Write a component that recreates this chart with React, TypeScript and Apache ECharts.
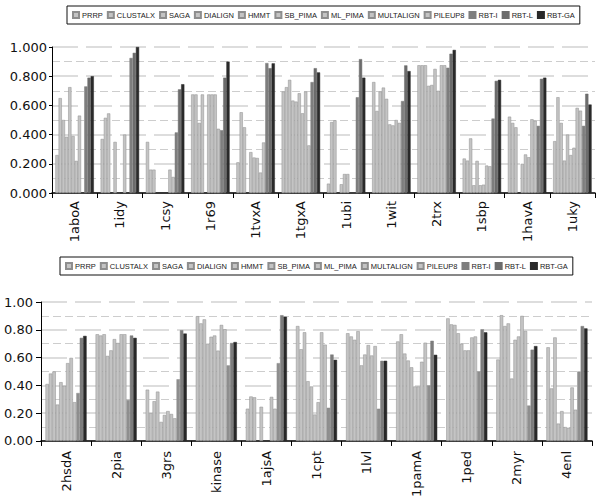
import React, { useEffect, useRef } from "react";
import * as echarts from "echarts";

const SERIES_NAMES = ["PRRP", "CLUSTALX", "SAGA", "DIALIGN", "HMMT", "SB_PIMA", "ML_PIMA", "MULTALIGN", "PILEUP8", "RBT-I", "RBT-L", "RBT-GA"];

const TOP_CATEGORIES = ["1aboA", "1idy", "1csy", "1r69", "1tvxA", "1tgxA", "1ubi", "1wit", "2trx", "1sbp", "1havA", "1uky"];
const BOTTOM_CATEGORIES = ["2hsdA", "2pia", "3grs", "kinase", "1ajsA", "1cpt", "1lvl", "1pamA", "1ped", "2myr", "4enl"];

const TOP_TICKS = ["0.000", "0.200", "0.400", "0.600", "0.800", "1.000"];
const BOTTOM_TICKS = ["0.00", "0.20", "0.40", "0.60", "0.80", "1.00"];

// values per category, in SERIES_NAMES order (null = no bar)
const v1aboA = [0.26, 0.65, 0.5, 0.385, 0.725, 0.39, 0.22, 0.53, null, 0.73, 0.79, 0.8];
const v1idy = [0.37, 0.515, 0.545, null, 0.35, null, null, 0.4, null, 0.925, 0.96, 1.0];
const v1csy = [0.35, 0.16, 0.16, null, null, null, null, 0.16, 0.11, 0.415, 0.71, 0.745];
const v1r69 = [0.675, 0.675, 0.48, 0.675, null, 0.675, 0.675, 0.675, 0.44, 0.43, 0.79, 0.9];
const v1tvxA = [0.21, 0.553, 0.45, null, 0.28, 0.243, 0.24, 0.14, 0.346, 0.89, 0.855, 0.888];
const v1tgxA = [0.695, 0.725, 0.775, 0.633, 0.626, 0.683, 0.546, 0.695, 0.326, 0.76, 0.855, 0.826];
const v1ubi = [0.064, 0.486, 0.498, null, 0.06, 0.13, 0.13, null, null, 0.656, 0.917, 0.79];
const v1wit = [0.76, 0.562, 0.695, 0.722, 0.645, 0.47, 0.463, 0.5, 0.48, 0.63, 0.874, 0.835];
const v2trx = [0.875, 0.875, 0.875, 0.734, 0.74, 0.85, 0.7, 0.875, 0.875, 0.858, 0.954, 0.98];
const v1sbp = [0.236, 0.222, 0.374, 0.053, 0.22, 0.053, 0.057, 0.188, 0.183, 0.51, 0.768, 0.775];
const v1havA = [0.523, 0.48, 0.45, null, 0.2, 0.264, 0.245, 0.505, 0.495, 0.46, 0.782, 0.79];
const v1uky = [0.355, 0.656, 0.48, 0.222, 0.4, 0.26, 0.31, 0.583, 0.564, 0.46, 0.68, 0.606];

const v2hsdA = [0.41, 0.485, 0.5, 0.262, 0.423, 0.397, 0.56, 0.598, 0.279, 0.345, 0.742, 0.756];
const v2pia = [0.768, 0.759, 0.768, 0.612, 0.652, 0.733, 0.705, 0.768, 0.768, 0.295, 0.759, 0.742];
const v3grs = [0.369, 0.2, 0.286, 0.355, 0.137, 0.187, 0.215, 0.194, 0.163, 0.444, 0.797, 0.773];
const vkinase = [0.898, 0.846, 0.875, 0.7, 0.75, 0.759, 0.65, 0.835, 0.804, 0.544, 0.705, 0.712];
const v1ajsA = [0.232, 0.32, 0.314, null, 0.246, null, null, 0.317, 0.232, 0.56, 0.905, 0.894];
const v1cpt = [0.827, 0.66, 0.782, 0.43, 0.392, 0.19, 0.279, 0.782, 0.693, 0.239, 0.622, 0.584];
const v1lvl = [0.775, 0.752, 0.728, 0.79, 0.544, 0.622, 0.69, 0.615, 0.683, 0.232, 0.577, 0.577];
const v1pamA = [0.716, 0.768, 0.629, 0.579, 0.53, 0.392, 0.392, 0.57, 0.707, 0.4, 0.721, 0.62];
const v1ped = [0.882, 0.839, 0.835, 0.775, 0.7, 0.652, 0.652, 0.745, 0.752, 0.5, 0.804, 0.782];
const v2myr = [0.586, 0.905, 0.827, 0.846, 0.449, 0.728, 0.752, 0.9, 0.792, 0.255, 0.657, 0.683];
const v4enl = [0.674, 0.378, 0.745, 0.125, 0.215, 0.1, 0.095, 0.385, 0.225, 0.5, 0.827, 0.81];

const TOP_ROWS = [v1aboA, v1idy, v1csy, v1r69, v1tvxA, v1tgxA, v1ubi, v1wit, v2trx, v1sbp, v1havA, v1uky];
const BOTTOM_ROWS = [v2hsdA, v2pia, v3grs, vkinase, v1ajsA, v1cpt, v1lvl, v1pamA, v1ped, v2myr, v4enl];

const FILL_TOP = ["#c4c4c4", "#c4c4c4", "#c4c4c4", "#c4c4c4", "#c4c4c4", "#c4c4c4", "#c4c4c4", "#c4c4c4", "#c4c4c4", "#7e7e7e", "#6c6c6c", "#2a2a2a"];
const FILL_BOTTOM = ["#c4c4c4", "#c4c4c4", "#c4c4c4", "#c4c4c4", "#c4c4c4", "#c4c4c4", "#c4c4c4", "#c4c4c4", "#c4c4c4", "#8e8e8e", "#7c7c7c", "#282828"];

const AXIS_FONT = "DejaVu Sans";

function yAxis(gridIndex: number, ticks: string[], margin: number, tickLen: number) {
  return {
    type: "value",
    gridIndex,
    min: 0,
    max: 1,
    interval: 0.2,
    axisLine: { show: true, lineStyle: { color: "#000", width: 1 } },
    axisTick: { show: true, length: tickLen, lineStyle: { color: "#000" } },
    axisLabel: {
      margin,
      fontFamily: AXIS_FONT,
      fontSize: 13,
      color: "#111",
      formatter: (v: number) => ticks[Math.round(v / 0.2)] ?? "",
    },
    splitLine: { show: true, lineStyle: { color: "#d2d2d2", width: 1.5, type: [26, 8] } },
    minorTick: { show: false, splitNumber: 2 },
    minorSplitLine: { show: true, lineStyle: { color: "#cdcdcd", width: 1, type: [8, 4] } },
  };
}

function xAxis(gridIndex: number, cats: string[], margin: number) {
  return {
    type: "category",
    gridIndex,
    data: cats,
    axisLine: { show: true, lineStyle: { color: "#000", width: 1.5 } },
    axisTick: { show: true, length: 5, lineStyle: { color: "#000" } },
    axisLabel: { rotate: 90, margin, fontFamily: AXIS_FONT, fontSize: 13, color: "#111", interval: 0 },
    splitLine: { show: false },
  };
}

function legend(top: number, left: number, gap: number, fontSize: number) {
  return {
    top,
    left,
    width: 580,
    data: SERIES_NAMES,
    icon: "rect",
    itemWidth: 6,
    itemHeight: 6,
    itemGap: gap,
    borderColor: "#111",
    borderWidth: 1,
    padding: [5, 5],
    textStyle: { fontFamily: "Liberation Sans", fontSize, color: "#222", padding: [0, 0, 0, -2] },
    selectedMode: false,
  };
}

export default function App() {
  const ref = useRef<HTMLDivElement>(null);
  useEffect(() => {
    if (!ref.current) return;
    const chart = echarts.init(ref.current, undefined, { renderer: "svg" });
    const series: any[] = [];
    SERIES_NAMES.forEach((name, i) => {
      series.push({
        name,
        type: "bar",
        xAxisIndex: 0,
        yAxisIndex: 0,
        data: TOP_ROWS.map((r) => r[i]),
        barGap: "0%",
        barCategoryGap: "15%",
        itemStyle: { color: FILL_TOP[i], borderColor: i < 9 ? "#8e8e8e" : FILL_TOP[i], borderWidth: 0.5 },
      });
    });
    SERIES_NAMES.forEach((name, i) => {
      series.push({
        name,
        type: "bar",
        xAxisIndex: 1,
        yAxisIndex: 1,
        data: BOTTOM_ROWS.map((r) => r[i]),
        barGap: "0%",
        barCategoryGap: "18%",
        itemStyle: { color: FILL_BOTTOM[i], borderColor: i < 9 ? "#8e8e8e" : FILL_BOTTOM[i], borderWidth: 0.5 },
      });
    });
    chart.setOption({
      animation: false,
      backgroundColor: "#fff",
      legend: [legend(6, 67, 4, 7.5), legend(257, 60, 4, 7.5)],
      grid: [
        { left: 52, right: 5, top: 47, height: 146 },
        { left: 41, right: 8, top: 302, height: 141 },
      ],
      xAxis: [xAxis(0, TOP_CATEGORIES, 8), xAxis(1, BOTTOM_CATEGORIES, 10)],
      yAxis: [yAxis(0, TOP_TICKS, 5, 3), yAxis(1, BOTTOM_TICKS, 8, 5)],
      series,
    });
    return () => chart.dispose();
  }, []);
  return <div ref={ref} style={{ width: 600, height: 500, position: "absolute", left: 0, top: 0 }} />;
}
